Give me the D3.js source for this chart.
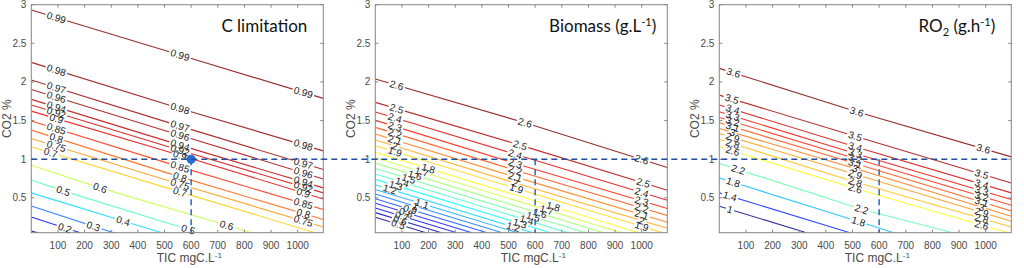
<!DOCTYPE html>
<html>
<head>
<meta charset="utf-8">
<script src="https://cdn.jsdelivr.net/npm/d3@7"></script>
<style>
body { margin: 0; background: #fff; }
</style>
</head>
<body>
<div id="viz"></div>
<script>
// size of the whole figure
const width = 1024
const height = 268

// three panels side by side sharing the same axes
const panelLeft = [31.3, 375.3, 719.3]
const plotW = 292

// axes
const ticDomain = [0, 1096]
const co2Domain = [0.05, 3]
const ticTicks = [100, 200, 300, 400, 500, 600, 700, 800, 900, 1000]
const co2Ticks = [0.5, 1, 1.5, 2, 2.5, 3]

// operating point
const opTic = 600
const opCo2 = 1

// C limitation: contour levels, each line as [TIC, CO2] points, label positions (TIC)
const cLevels = [0.1, 0.2, 0.3, 0.4, 0.5, 0.6, 0.7, 0.75, 0.8, 0.85, 0.9, 0.92, 0.94, 0.96, 0.97, 0.98, 0.99]
const cLines = [
  [[0, 0.07], [25, 0.05]],
  [[0, 0.254], [126, 0.111], [184, 0.05]],
  [[0, 0.396], [233, 0.134], [310, 0.05]],
  [[0, 0.565], [345, 0.202], [490, 0.05]],
  [[0, 0.733], [120, 0.591], [589, 0.091], [627, 0.05]],
  [[0, 0.924], [258, 0.630], [733, 0.146], [827, 0.05]],
  [[0, 1.161], [558, 0.578], [1065, 0.05]],
  [[0, 1.269], [558, 0.677], [1096, 0.124]],
  [[0, 1.377], [558, 0.772], [1096, 0.220]],
  [[0, 1.494], [558, 0.902], [1096, 0.350]],
  [[0, 1.623], [558, 1.053], [1096, 0.487]],
  [[0, 1.701], [558, 1.118], [1096, 0.565]],
  [[0, 1.775], [558, 1.183], [1096, 0.630]],
  [[0, 1.904], [558, 1.312], [1096, 0.746]],
  [[0, 2.025], [558, 1.429], [1096, 0.868]],
  [[0, 2.254], [558, 1.658], [1096, 1.109]],
  [[0, 2.931], [558, 2.348], [1096, 1.788]]
]
const cLabelX = [
  [], [126], [233], [345], [120, 589], [258, 733], [73, 558],
  [94, 558, 1021], [94, 558, 1021], [94, 558, 1021], [94, 558, 1021], [94, 558, 1021],
  [94, 558, 1021], [94, 558, 1021], [94, 558, 1021], [94, 558, 1021], [94, 558, 1021]
]

// Biomass (g/L)
const bLevels = [0.5, 0.6, 0.7, 0.8, 0.9, 1, 1.1, 1.2, 1.3, 1.4, 1.5, 1.6, 1.7, 1.8, 1.9, 2, 2.1, 2.2, 2.3, 2.4, 2.5, 2.6]
const bLines = [
  [[0, 0.25], [190, 0.05]],
  [[0, 0.31], [248, 0.05]],
  [[0, 0.37], [305, 0.05]],
  [[0, 0.43], [362, 0.05]],
  [[0, 0.49], [419, 0.05]],
  [[0, 0.55], [476, 0.05]],
  [[0, 0.61], [533, 0.05]],
  [[0, 0.67], [590, 0.05]],
  [[0, 0.74], [657, 0.05]],
  [[0, 0.81], [724, 0.05]],
  [[0, 0.88], [790, 0.05]],
  [[0, 0.95], [857, 0.05]],
  [[0, 1.02], [924, 0.05]],
  [[0, 1.09], [990, 0.05]],
  [[0, 1.175], [530, 0.622], [1080, 0.05]],
  [[0, 1.249], [525, 0.694], [1096, 0.107]],
  [[0, 1.326], [525, 0.772], [1096, 0.185]],
  [[0, 1.413], [525, 0.859], [1096, 0.272]],
  [[0, 1.503], [525, 0.946], [1096, 0.362]],
  [[0, 1.611], [525, 1.066], [1096, 0.470]],
  [[0, 1.736], [544, 1.183], [1096, 0.600]],
  [[0, 2.038], [562, 1.472], [1096, 0.894]]
]
const bLabelX = [
  [86], [93], [100], [115], [131], [150], [175],
  [55, 518], [77, 543], [101, 568], [125, 593], [149, 618], [174, 643], [199, 668],
  [74, 530, 1000], [74, 525, 1000], [74, 525, 1000], [74, 525, 1000], [74, 525, 1000],
  [74, 525, 1000], [80, 544, 1006], [80, 562, 1000]
]

// RO2 (g/h)
const rLevels = [1, 1.4, 1.8, 2.2, 2.6, 2.8, 2.9, 3, 3.1, 3.2, 3.3, 3.4, 3.5, 3.6]
const rLines = [
  [[0, 0.393], [327, 0.05]],
  [[0, 0.565], [490, 0.05]],
  [[0, 0.759], [522, 0.194], [655, 0.05]],
  [[0, 0.946], [534, 0.354], [876, 0.05]],
  [[0, 1.161], [510, 0.622], [1085, 0.05]],
  [[0, 1.256], [510, 0.707], [1096, 0.124]],
  [[0, 1.334], [510, 0.807], [1096, 0.198]],
  [[0, 1.399], [510, 0.881], [1096, 0.263]],
  [[0, 1.472], [510, 0.946], [1096, 0.332]],
  [[0, 1.541], [510, 1.010], [1096, 0.405]],
  [[0, 1.614], [510, 1.075], [1096, 0.479]],
  [[0, 1.701], [510, 1.161], [1096, 0.565]],
  [[0, 1.830], [510, 1.299], [1096, 0.694]],
  [[0, 2.176], [516, 1.614], [1096, 1.031]]
]
const rLabelX = [
  [40], [40], [52, 522], [71, 534], [50, 510, 985], [50, 510, 985], [50, 510, 985],
  [50, 510, 985], [50, 510, 985], [50, 510, 985], [50, 510, 985], [50, 510, 985],
  [47, 510, 985], [53, 516, 991]
]

const panels = [
  {levels: cLevels, lines: cLines, labels: cLabelX, title: [["C limitation", 0]], titleEnd: 16, dot: true},
  {levels: bLevels, lines: bLines, labels: bLabelX, title: [["Biomass (g.L", 0], ["-1", -1], [")", 1]], titleEnd: 11, dot: false},
  {levels: rLevels, lines: rLines, labels: rLabelX, title: [["RO", 0], ["2", 2], [" (g.h", -2], ["-1", -1], [")", 1]], titleEnd: 16, dot: false}
]

// matlab jet colormap
const jet = d3.scaleLinear()
  .domain([0, 0.125, 0.375, 0.625, 0.875, 1])
  .range(["#000080", "#0000ff", "#00ffff", "#ffff00", "#ff0000", "#800000"])

const y = d3.scaleLinear().domain(co2Domain).range([232.7, 4.7])

var svg = d3.select("#viz")
  .append("svg")
  .attr("width", width)
  .attr("height", height)
  .style("font-family", "'Liberation Sans', Arial, sans-serif")

var defs = svg.append("defs")

// co2 value and direction of a polyline at a given TIC
function pointAt(pts, t) {
  for (let i = 0; i < pts.length - 1; i++) {
    const a = pts[i], b = pts[i + 1]
    if (t >= a[0] && t <= b[0]) {
      const f = (t - a[0]) / (b[0] - a[0])
      return {v: a[1] + f * (b[1] - a[1]), a: a, b: b}
    }
  }
  return null
}

panels.forEach(function (p, pi) {
  const x = d3.scaleLinear().domain(ticDomain).range([panelLeft[pi], panelLeft[pi] + plotW])
  const x0 = x.range()[0], x1 = x.range()[1]
  const yTop = y(co2Domain[1]), yBot = y(co2Domain[0])
  const g = svg.append("g")

  defs.append("clipPath").attr("id", "clip" + pi)
    .append("rect")
    .attr("x", x0).attr("y", yTop)
    .attr("width", x1 - x0).attr("height", yBot - yTop)

  const color = d3.scaleLinear().domain(d3.extent(p.levels)).range([0, 1])
  const line = d3.line().x(d => x(d[0])).y(d => y(d[1]))

  const lineG = g.append("g").attr("clip-path", "url(#clip" + pi + ")")
  const labelG = g.append("g")
    .style("font-size", "10px")
    .attr("fill", "#1a1a1a")

  p.levels.forEach(function (lev, li) {
    const pts = p.lines[li]
    const maskId = "m" + pi + "_" + li
    const mask = defs.append("mask").attr("id", maskId)
      .attr("maskUnits", "userSpaceOnUse")
      .attr("x", 0).attr("y", 0).attr("width", width).attr("height", height)
    mask.append("rect").attr("width", width).attr("height", height).attr("fill", "#fff")

    p.labels[li].forEach(function (lx) {
      const q = pointAt(pts, lx)
      if (!q) return
      const px = x(lx), py = y(q.v)
      const ang = Math.atan2(y(q.b[1]) - y(q.a[1]), x(q.b[0]) - x(q.a[0])) * 180 / Math.PI
      const t = labelG.append("text")
        .attr("transform", "translate(" + px + "," + py + ") rotate(" + ang + ")")
        .attr("text-anchor", "middle")
        .attr("dy", "0.35em")
        .text(String(lev))
      const w = t.node().getComputedTextLength() + 3
      mask.append("rect")
        .attr("x", -w / 2).attr("y", -3.5)
        .attr("width", w).attr("height", 7)
        .attr("transform", "translate(" + px + "," + py + ") rotate(" + ang + ")")
        .attr("fill", "#000")
    })

    lineG.append("path")
      .attr("d", line(pts))
      .attr("fill", "none")
      .attr("stroke", jet(color(lev)))
      .attr("stroke-opacity", 0.82)
      .attr("stroke-width", 1.1)
      .attr("mask", "url(#" + maskId + ")")
  })

  // frame with ticks on all four sides
  g.append("rect")
    .attr("x", x0).attr("y", yTop)
    .attr("width", x1 - x0).attr("height", yBot - yTop)
    .attr("fill", "none").attr("stroke", "#858585").attr("stroke-width", 1)

  const tickG = g.append("g").attr("stroke", "#858585").attr("stroke-width", 1)
  ticTicks.forEach(function (t) {
    tickG.append("line").attr("x1", x(t)).attr("x2", x(t)).attr("y1", yBot).attr("y2", yBot - 3)
    tickG.append("line").attr("x1", x(t)).attr("x2", x(t)).attr("y1", yTop).attr("y2", yTop + 3)
  })
  co2Ticks.forEach(function (t) {
    tickG.append("line").attr("x1", x0).attr("x2", x0 + 3).attr("y1", y(t)).attr("y2", y(t))
    tickG.append("line").attr("x1", x1).attr("x2", x1 - 3).attr("y1", y(t)).attr("y2", y(t))
  })

  // tick labels
  const tl = g.append("g").attr("fill", "#4a4a4a").style("font-size", "10px")
  ticTicks.forEach(function (t) {
    tl.append("text").attr("x", x(t)).attr("y", 249).attr("text-anchor", "middle").text(t)
  })
  co2Ticks.forEach(function (t) {
    tl.append("text").attr("x", x0 - 5).attr("y", y(t)).attr("dy", "0.35em")
      .attr("text-anchor", "end").text(t)
  })

  // axis labels
  const xl = g.append("text")
    .attr("x", (x0 + x1) / 2 + 12).attr("y", 262)
    .attr("text-anchor", "middle")
    .attr("fill", "#4a4a4a").style("font-size", "12px")
  xl.append("tspan").text("TIC mgC.L")
  xl.append("tspan").attr("dy", -4).style("font-size", "8px").text("-1")

  g.append("text")
    .attr("transform", "translate(" + (x0 - 20) + "," + ((yTop + yBot) / 2) + ") rotate(-90)")
    .attr("text-anchor", "middle")
    .attr("fill", "#4a4a4a").style("font-size", "12px")
    .text("CO2 %")

  // title inside the plot
  const tt = g.append("text")
    .attr("x", x1 - p.titleEnd).attr("y", 32)
    .attr("text-anchor", "end")
    .attr("fill", "#111")
    .style("font-family", "Lato, 'Open Sans', sans-serif")
    .style("font-size", "17px")
  p.title.forEach(function (s) {
    const sp = tt.append("tspan").text(s[0])
    if (s[1] == -1) sp.attr("dy", -6).style("font-size", "11px")
    if (s[1] == 1) sp.attr("dy", 6)
    if (s[1] == 2) sp.attr("dy", 4).style("font-size", "11px")
    if (s[1] == -2) sp.attr("dy", -4)
  })

  // operating point guides
  g.append("line")
    .attr("x1", x(opTic)).attr("x2", x(opTic))
    .attr("y1", y(opCo2)).attr("y2", yBot)
    .attr("stroke", "#2f66c0").attr("stroke-width", 1.5)
    .attr("stroke-dasharray", "6,4")
  if (p.dot) {
    g.append("circle")
      .attr("cx", x(opTic)).attr("cy", y(opCo2)).attr("r", 4.6)
      .attr("fill", "#2a6fcf")
  }
})

// horizontal guide across all panels
const xFirst = d3.scaleLinear().domain(ticDomain).range([panelLeft[0], panelLeft[0] + plotW])
const xLast = d3.scaleLinear().domain(ticDomain).range([panelLeft[2], panelLeft[2] + plotW])
svg.append("line")
  .attr("x1", xFirst(ticDomain[0])).attr("x2", xLast(ticDomain[1]))
  .attr("y1", y(opCo2)).attr("y2", y(opCo2))
  .attr("stroke", "#1f4f9e").attr("stroke-width", 1.5)
  .attr("stroke-dasharray", "6,4")
</script>
</body>
</html>
